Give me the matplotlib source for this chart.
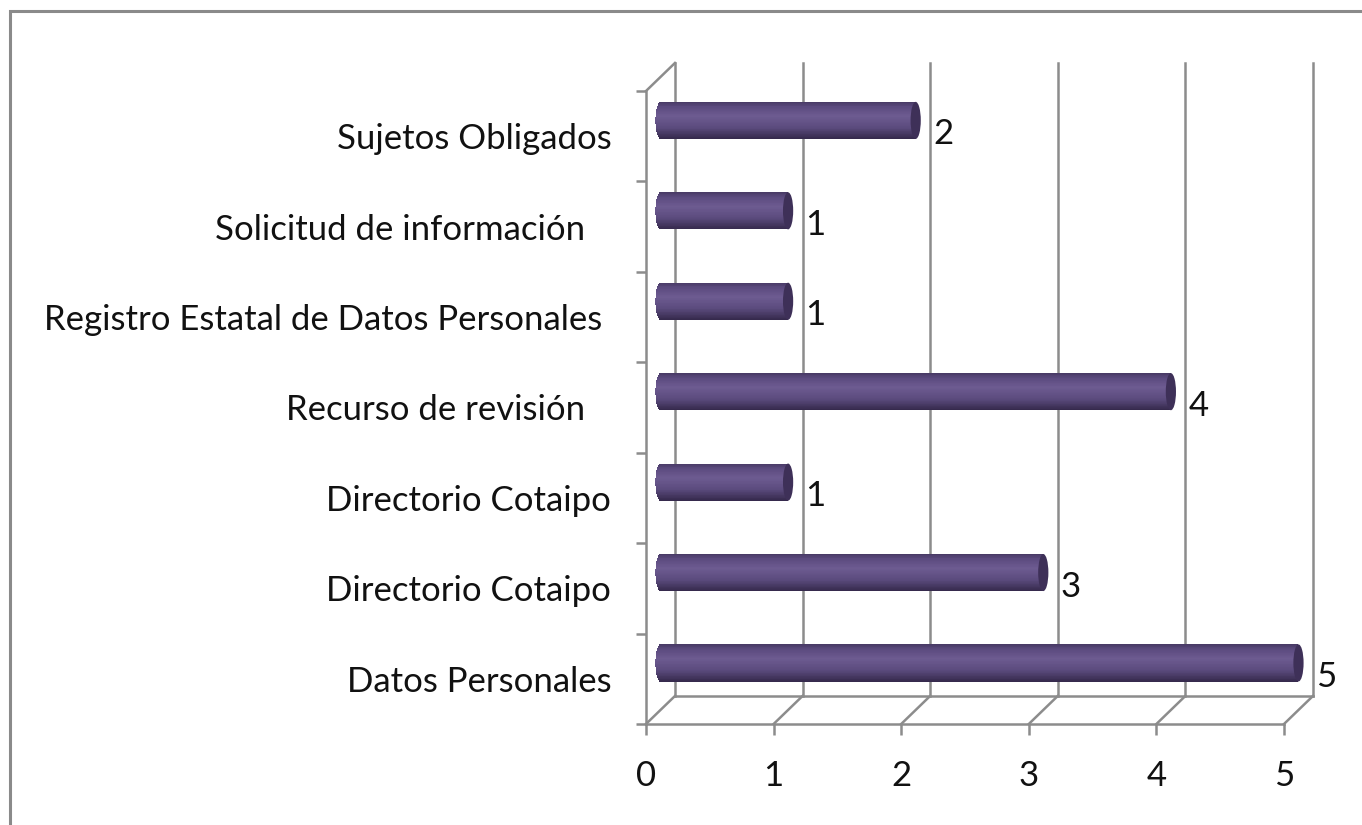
import matplotlib.pyplot as plt
from matplotlib.patches import Rectangle, Ellipse
from matplotlib.colors import LinearSegmentedColormap
import numpy as np

categories = ['Datos Personales', 'Directorio Cotaipo', 'Directorio Cotaipo',
              'Recurso de revisión   ', 'Registro Estatal de Datos Personales ',
              'Solicitud de información   ', 'Sujetos Obligados']
values = [5, 3, 1, 4, 1, 1, 2]
x_ticks = [0, 1, 2, 3, 4, 5]

plt.rcParams['font.family'] = ['Lato', 'DejaVu Sans']

W, H = 1362, 825
fig = plt.figure(figsize=(W / 100, H / 100), dpi=100)
fig.patch.set_facecolor('white')

# outer chart border (cut off on the right and bottom)
fig.add_artist(Rectangle((9.5 / W, -0.1), 1.2, 1 - 11 / H + 0.1, transform=fig.transFigure,
                         fill=False, edgecolor='#8a8a8a', linewidth=2.2))

ax = fig.add_axes([646 / W, (H - 724) / H, 638 / W, 633 / H])

grid_c = '#8c8c8c'
lw = 1.8
DX, DY = 0.227, 0.31       # depth offset of the fake 3D box (data units)
n = len(categories)
y_lo, y_hi = -0.5, n - 0.5
fs = 25

# back wall gridlines, floor diagonals
for k in x_ticks:
    ax.plot([k + DX, k + DX], [y_lo + DY, y_hi + DY], color=grid_c, lw=lw, clip_on=False, zorder=1)
    ax.plot([k, k + DX], [y_lo, y_lo + DY], color=grid_c, lw=lw, clip_on=False, zorder=1)
ax.plot([DX, x_ticks[-1] + DX], [y_lo + DY, y_lo + DY], color=grid_c, lw=lw, clip_on=False, zorder=1)
# left wall top edge
ax.plot([0, DX], [y_hi, y_hi + DY], color=grid_c, lw=lw, clip_on=False, zorder=1)

# cylinder shading, drawn as thin horizontal stripes
cmap = LinearSegmentedColormap.from_list('cyl', [
    (0.0, '#493b66'), (0.12, '#5b4a7e'), (0.38, '#6d5b91'),
    (0.7, '#5b4b7d'), (1.0, '#362a4d')])
n_strip = 50
bar_h = 0.41
cap = 0.04
s = np.linspace(1, -1, n_strip + 1)
s_mid = (s[:-1] + s[1:]) / 2
strip_cols = cmap(np.linspace(0, 1, n_strip))

for i, v in enumerate(values):
    yc = i + DY / 2 + 0.02
    x0, x1 = DX / 2, v + DX / 2
    left = x0 - cap * np.sqrt(1 - s_mid ** 2)
    ax.barh(yc + s_mid * bar_h / 2, x1 - left, left=left, height=bar_h / n_strip * 1.05,
            color=strip_cols, edgecolor='none', linewidth=0, zorder=3, clip_on=False)
    ax.add_patch(Ellipse((x1, yc), 2 * cap, bar_h, facecolor='#3e3058', edgecolor='none',
                         zorder=4, clip_on=False))
    ax.text(v + 0.25, i + 0.02, str(v), ha='left', va='center', fontsize=fs, color='#111111',
            zorder=5, clip_on=False)

ax.set_xlim(x_ticks[0], x_ticks[-1])
ax.set_ylim(y_lo, y_hi)
ax.set_facecolor('none')

for sp in ['top', 'right']:
    ax.spines[sp].set_visible(False)
for sp in ['left', 'bottom']:
    ax.spines[sp].set_color(grid_c)
    ax.spines[sp].set_linewidth(lw)

ax.set_xticks(x_ticks)
ax.set_xticklabels([str(t) for t in x_ticks])
ax.tick_params(axis='x', length=8, width=lw, color=grid_c, pad=18, labelsize=fs, labelcolor='#111111')

ax.set_yticks(np.arange(n))
ax.set_yticklabels(categories)
ax.set_yticks(np.arange(n + 1) - 0.5, minor=True)
ax.tick_params(axis='y', which='major', length=0, pad=25, labelsize=fs, labelcolor='#111111')
ax.tick_params(axis='y', which='minor', length=7, width=lw, color=grid_c)

fig.savefig('out.png', dpi=100)
